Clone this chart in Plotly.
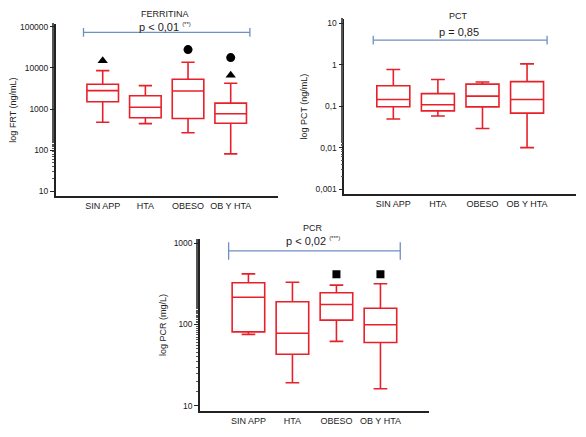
import plotly.graph_objects as go

# groups shown on every panel
categories = ["SIN APP", "HTA", "OBESO", "OB Y HTA"]

# ferritina (ng/mL)
frt_low = [475, 440, 265, 81]
frt_q1 = [1500, 615, 590, 450]
frt_med = [2800, 1100, 2750, 770]
frt_q3 = [4000, 2100, 5300, 1390]
frt_high = [8600, 3700, 13700, 4250]

# procalcitonina (ng/mL)
pct_low = [0.049, 0.058, 0.029, 0.010]
pct_q1 = [0.097, 0.077, 0.096, 0.068]
pct_med = [0.145, 0.108, 0.174, 0.145]
pct_q3 = [0.31, 0.20, 0.34, 0.39]
pct_high = [0.76, 0.44, 0.38, 1.04]

# proteina C reactiva (mg/L)
pcr_low = [75.5, 19.2, 62, 16.2]
pcr_q1 = [81, 43, 113, 60]
pcr_med = [216, 78, 176, 99]
pcr_q3 = [325, 190, 245, 158]
pcr_high = [418, 330, 304, 316]

# outlier symbols above the boxes
frt_triangles_x = [0, 3]
frt_triangles_y = [15000, 6640]
frt_circles_x = [2, 3]
frt_circles_y = [27900, 17800]
pcr_squares_x = [2, 3]
pcr_squares_y = [414, 414]

# bracket heights
frt_bracket = 73000
pct_bracket = 3.9
pcr_bracket = 800

RED = "#e8202a"
BLUE = "#6f8fc2"
FONT = "Liberation Sans, Arial, sans-serif"
W, H = 586, 437
OFF = 8  # the page body adds an 8px margin


def px(x):
    return (x - OFF) / W


def py(y):
    return 1 - (y - OFF) / H


fig = go.Figure()

panels = [
    ("x", "y", frt_low, frt_q1, frt_med, frt_q3, frt_high, frt_bracket),
    ("x2", "y2", pct_low, pct_q1, pct_med, pct_q3, pct_high, pct_bracket),
    ("x3", "y3", pcr_low, pcr_q1, pcr_med, pcr_q3, pcr_high, pcr_bracket),
]

pos = list(range(len(categories)))

for xa, ya, lo, q1, med, q3, hi, br in panels:
    fig.add_trace(go.Box(
        x=pos, lowerfence=lo, q1=q1, median=med, q3=q3, upperfence=hi,
        width=0.74, whiskerwidth=0.42,
        line=dict(color=RED, width=1.6), fillcolor="rgba(255,255,255,0)",
        boxpoints=False, xaxis=xa, yaxis=ya, showlegend=False))
    # bracket with end ticks
    fig.add_trace(go.Scatter(
        x=[-0.45, -0.45, None, -0.45, 3.45, None, 3.45, 3.45],
        y=[br * 0.78, br * 1.28, None, br, br, None, br * 0.78, br * 1.28],
        mode="lines", line=dict(color=BLUE, width=1.3),
        xaxis=xa, yaxis=ya, showlegend=False, hoverinfo="skip"))

fig.add_trace(go.Scatter(x=frt_triangles_x, y=frt_triangles_y, mode="markers",
                         marker=dict(symbol="triangle-up", size=9, color="black"),
                         xaxis="x", yaxis="y", showlegend=False))
fig.add_trace(go.Scatter(x=frt_circles_x, y=frt_circles_y, mode="markers",
                         marker=dict(symbol="circle", size=9, color="black"),
                         xaxis="x", yaxis="y", showlegend=False))
fig.add_trace(go.Scatter(x=pcr_squares_x, y=pcr_squares_y, mode="markers",
                         marker=dict(symbol="square", size=8, color="black"),
                         xaxis="x3", yaxis="y3", showlegend=False))

xcommon = dict(range=[-1.1, 4.1], tickvals=pos, ticktext=categories,
               showline=True, linecolor="#222", linewidth=1.5, ticks="",
               showgrid=False, zeroline=False, tickfont=dict(size=9, color="#222"))
ycommon = dict(type="log", showline=True, linecolor="#222", linewidth=1.5,
               ticks="outside", ticklen=4, tickcolor="#222",
               minor=dict(ticks="outside", ticklen=2, tickcolor="#555", showgrid=False),
               showgrid=False, zeroline=False, tickfont=dict(size=8.5, color="#222"))

fig.update_layout(
    width=W, height=H,
    margin=dict(l=0, r=0, t=0, b=0),
    paper_bgcolor="white", plot_bgcolor="white",
    font=dict(family=FONT, color="#222"),
    xaxis=dict(xcommon, domain=[px(53), px(276)], anchor="y"),
    yaxis=dict(ycommon, domain=[py(195), py(22)], anchor="x", range=[0.88, 5.07],
               tickvals=[10, 100, 1000, 10000, 100000],
               ticktext=["10", "100", "1000", "10000", "100000"],
               title=dict(text="log FRT (ng/mL)", font=dict(size=9), standoff=6)),
    xaxis2=dict(xcommon, domain=[px(343), px(576)], anchor="y2"),
    yaxis2=dict(ycommon, domain=[py(193), py(17)], anchor="x2", range=[-3.12, 1.1],
                tickvals=[0.001, 0.01, 0.1, 1, 10],
                ticktext=["0,001", "0,01", "0,1", "1", "10"],
                title=dict(text="log PCT (ng/mL)", font=dict(size=9), standoff=6)),
    xaxis3=dict(xcommon, domain=[px(198), px(428)], anchor="y3"),
    yaxis3=dict(ycommon, domain=[py(411), py(238)], anchor="x3", range=[0.935, 3.05],
                tickvals=[10, 100, 1000],
                ticktext=["10", "100", "1000"],
                title=dict(text="log PCR (mg/L)", font=dict(size=9), standoff=6)),
)

labels = [
    ("FERRITINA", 163, 12, 9),
    ("PCT", 458, 14, 9),
    ("PCR", 312, 227, 9),
    ("p < 0,01 <sup><span style='font-size:6px'>(**)</span></sup>", 163, 25, 11),
    ("p = 0,85", 458, 30, 11),
    ("p < 0,02 <sup><span style='font-size:6px'>(***)</span></sup>", 312, 240, 11),
]
for text, x, y, size in labels:
    fig.add_annotation(text=text, x=px(x), y=py(y), xref="paper", yref="paper",
                       xanchor="center", yanchor="middle",
                       showarrow=False, font=dict(size=size))

fig.write_html("out.html")
